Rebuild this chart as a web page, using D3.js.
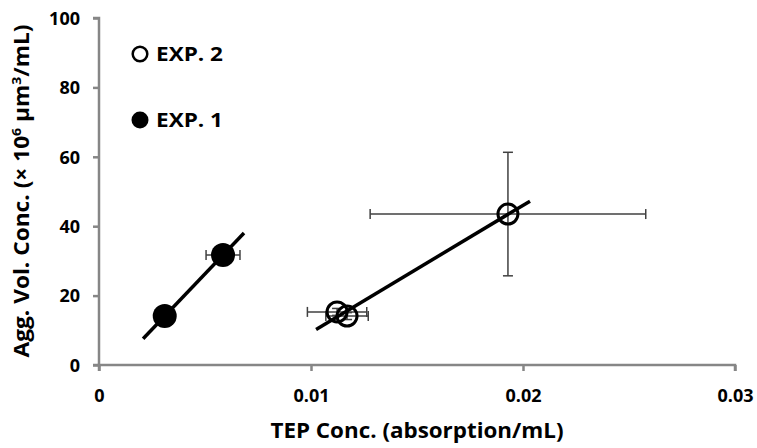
<!DOCTYPE html>
<html>
<head>
<meta charset="utf-8">
<script src="https://cdn.jsdelivr.net/npm/d3@7"></script>
<style>
  body { margin: 0; background: #fff; }
  text { font-family: "Open Sans", sans-serif; font-weight: bold; fill: #000; }
</style>
</head>
<body>
<div id="wrapper"></div>
<script>
// data
const exp1X = [0.0031, 0.00585];
const exp1Y = [14.1, 31.7];
const exp1XErr = [0.0002, 0.0008];
const exp1YErr = [0.5, 1.5];

const exp2X = [0.01123, 0.0117, 0.01929];
const exp2Y = [15.3, 14.1, 43.5];
const exp2XErr = [0.0014, 0.001, 0.0065];
const exp2YErr = [1.0, 1.0, 17.8];

// x-range each trend line is drawn over
const exp1Trend = [0.00208, 0.00684];
const exp2Trend = [0.01024, 0.02033];

const xTicks = [0, 0.01, 0.02, 0.03];
const yTicks = [0, 20, 40, 60, 80, 100];

const width = 757, height = 448;
const svg = d3.select("#wrapper").append("svg")
  .attr("width", width).attr("height", height);

const x = d3.scaleLinear().domain([0, 0.03]).range([99, 735]);
const y = d3.scaleLinear().domain([0, 100]).range([365, 18]);

const axisColor = "#868686";

// axes
const xAxis = svg.append("g").attr("transform", "translate(0," + y(0) + ")")
  .call(d3.axisBottom(x).tickValues(xTicks).tickSize(6).tickFormat(d => d === 0 ? "0" : d3.format(".2f")(d)));
const yAxis = svg.append("g").attr("transform", "translate(" + x(0) + ",0)")
  .call(d3.axisLeft(y).tickValues(yTicks).tickSize(6));

[xAxis, yAxis].forEach(g => {
  g.select(".domain").attr("stroke", axisColor).attr("stroke-width", 2.5);
  g.selectAll(".tick line").attr("stroke", axisColor).attr("stroke-width", 2.5);
  g.selectAll(".tick text").style("font-size", "18px").attr("fill", "#000");
});
xAxis.select(".domain").attr("d", "M" + x(0) + ",6V0H" + x(0.03) + "V6");
yAxis.select(".domain").attr("d", "M-6," + y(100) + "H0V" + y(0) + "H-6");
xAxis.selectAll(".tick text").attr("dy", null).attr("y", 37);
yAxis.selectAll(".tick text").attr("x", -19).attr("dy", "0.35em");

// axis titles
svg.append("text").attr("x", 417).attr("y", 438)
  .attr("text-anchor", "middle").style("font-size", "21px")
  .attr("textLength", 293).attr("lengthAdjust", "spacingAndGlyphs")
  .text("TEP Conc. (absorption/mL)");

const yt = svg.append("text")
  .attr("transform", "translate(29,191) rotate(-90)")
  .attr("text-anchor", "middle").style("font-size", "21px")
  .attr("textLength", 333).attr("lengthAdjust", "spacingAndGlyphs");
yt.append("tspan").text("Agg. Vol. Conc. (× 10");
yt.append("tspan").attr("dy", -8).style("font-size", "13px").text("6");
yt.append("tspan").attr("dy", 8).text(" µm");
yt.append("tspan").attr("dy", -8).style("font-size", "13px").text("3");
yt.append("tspan").attr("dy", 8).text("/mL)");

// regression fit
function fit(xs, ys) {
  const mx = d3.mean(xs), my = d3.mean(ys);
  let sxy = 0, sxx = 0;
  xs.forEach((v, i) => { sxy += (v - mx) * (ys[i] - my); sxx += (v - mx) * (v - mx); });
  const b = sxy / sxx;
  return v => my + b * (v - mx);
}

function drawSeries(xs, ys, xe, ye, range, filled) {
  const pts = xs.map((v, i) => ({ x: v, y: ys[i], xe: xe[i], ye: ye[i] }));
  const eb = svg.append("g").attr("stroke", "#404040").attr("stroke-width", 1.5);
  const cap = 5;
  pts.forEach(p => {
    eb.append("line").attr("x1", x(p.x - p.xe)).attr("x2", x(p.x + p.xe)).attr("y1", y(p.y)).attr("y2", y(p.y));
    eb.append("line").attr("x1", x(p.x - p.xe)).attr("x2", x(p.x - p.xe)).attr("y1", y(p.y) - cap).attr("y2", y(p.y) + cap);
    eb.append("line").attr("x1", x(p.x + p.xe)).attr("x2", x(p.x + p.xe)).attr("y1", y(p.y) - cap).attr("y2", y(p.y) + cap);
    eb.append("line").attr("x1", x(p.x)).attr("x2", x(p.x)).attr("y1", y(p.y - p.ye)).attr("y2", y(p.y + p.ye));
    eb.append("line").attr("x1", x(p.x) - cap).attr("x2", x(p.x) + cap).attr("y1", y(p.y - p.ye)).attr("y2", y(p.y - p.ye));
    eb.append("line").attr("x1", x(p.x) - cap).attr("x2", x(p.x) + cap).attr("y1", y(p.y + p.ye)).attr("y2", y(p.y + p.ye));
  });
  const f = fit(xs, ys);
  svg.append("line")
    .attr("x1", x(range[0])).attr("y1", y(f(range[0])))
    .attr("x2", x(range[1])).attr("y2", y(f(range[1])))
    .attr("stroke", "#000").attr("stroke-width", 3.5);
  svg.selectAll(null).data(pts).enter().append("circle")
    .attr("cx", d => x(d.x)).attr("cy", d => y(d.y))
    .attr("r", filled ? 12 : 10)
    .attr("fill", filled ? "#000" : "none")
    .attr("stroke", "#000").attr("stroke-width", filled ? 0 : 3);
}

drawSeries(exp1X, exp1Y, exp1XErr, exp1YErr, exp1Trend, true);
drawSeries(exp2X, exp2Y, exp2XErr, exp2YErr, exp2Trend, false);

// legend
const legend = svg.append("g");
legend.append("circle").attr("cx", 140).attr("cy", 54).attr("r", 7.3)
  .attr("fill", "none").attr("stroke", "#000").attr("stroke-width", 2.5);
legend.append("text").attr("x", 156).attr("y", 61)
  .style("font-size", "20px").attr("textLength", 67).attr("lengthAdjust", "spacingAndGlyphs")
  .text("EXP. 2");
legend.append("circle").attr("cx", 140).attr("cy", 120).attr("r", 8.5).attr("fill", "#000");
legend.append("text").attr("x", 156).attr("y", 127)
  .style("font-size", "20px").attr("textLength", 67).attr("lengthAdjust", "spacingAndGlyphs")
  .text("EXP. 1");
</script>
</body>
</html>
